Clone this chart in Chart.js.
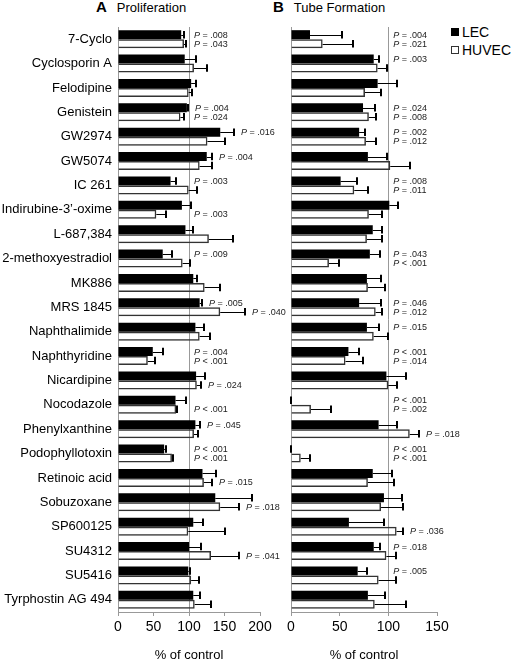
<!DOCTYPE html>
<html>
<head>
<meta charset="utf-8">
<script src="https://cdn.jsdelivr.net/npm/chart.js@4/dist/chart.umd.min.js"></script>
<style>
  html, body { margin: 0; padding: 0; background: #fff; }
  body { width: 512px; height: 663px; position: relative; overflow: hidden;
         font-family: "Liberation Sans", Arial, sans-serif; color: #000; }
  canvas { position: absolute; top: 0; }
  #chartA { left: 0; }
  #chartB { left: 262px; }
  .title { position: absolute; top: -1px; line-height: 15px; font-size: 13px; white-space: nowrap; }
  .title b { font-size: 15px; margin-right: 10px; }
  .legend { position: absolute; left: 451px; font-size: 14px; line-height: 16px; white-space: nowrap; }
  .legend span.box { display: inline-block; width: 8px; height: 8px; margin-right: 3px; vertical-align: 1px; box-sizing: border-box; }
</style>
</head>
<body>
<div class="title" style="left:96px"><b>A</b>Proliferation</div>
<div class="title" style="left:273px"><b>B</b>Tube Formation</div>
<div class="legend" style="top:24px"><span class="box" style="background:#000"></span>LEC</div>
<div class="legend" style="top:42px"><span class="box" style="border:1px solid #333;background:#fff"></span>HUVEC</div>
<canvas id="chartA" width="290" height="663"></canvas>
<canvas id="chartB" width="210" height="663"></canvas>
<script>
const drugs = [
  "7-Cyclo", "Cyclosporin A", "Felodipine", "Genistein", "GW2974", "GW5074",
  "IC 261", "Indirubine-3\u2019-oxime", "L-687,384", "2-methoxyestradiol", "MK886",
  "MRS 1845", "Naphthalimide", "Naphthyridine", "Nicardipine", "Nocodazole",
  "Phenylxanthine", "Podophyllotoxin", "Retinoic acid", "Sobuzoxane", "SP600125",
  "SU4312", "SU5416", "Tyrphostin AG 494"
];

// Proliferation (% of control)
const lecProlif = [89, 94, 103, 97, 144, 125, 74, 90, 95, 63, 106, 115, 109, 49, 110, 81, 109, 65, 119, 137, 106, 100, 99, 106];
const lecProlifErr = [4, 16, 7, 1.5, 19, 7, 7, 13, 11, 13, 5, 3, 12, 14, 12, 15, 6, 2, 19, 52, 14, 17, 2, 9];
const huvecProlif = [93, 107, 99.5, 88, 126, 115, 99.5, 54, 128, 91, 122, 144, 115, 42, 111, 82, 107, 76, 121, 144, 99, 131, 103, 108];
const huvecProlifErr = [3, 19, 4.5, 5, 24, 18, 11.5, 14, 34, 11, 22, 35, 14, 10, 6, 1, 5, 2, 12, 27, 51, 40, 11, 23];
const lecProlifP = [
  "= .008", null, null, "= .004", "= .016", "= .004", "= .003", null, null, "= .009", null, "= .005",
  null, "= .004", null, null, "= .045", "< .001", null, null, null, null, null, null
];
const huvecProlifP = [
  "= .043", null, null, "= .024", null, null, null, "= .003", null, null, null, "= .040",
  null, "< .001", "= .024", "< .001", null, "< .001", "= .015", "= .018", null, "= .041", null, null
];

// Tube formation (% of control)
const lecTube = [19.5, 85, 89, 74, 70, 79, 51, 101, 84, 81, 78, 70, 78, 59, 98, 0.5, 90, 0.5, 84, 95.5, 59.5, 85, 68.5, 79];
const lecTubeErr = [32.5, 5, 20, 12, 6, 20, 17, 9, 10, 10, 14, 22, 12, 11, 20, 0, 19, 0, 20, 18.5, 36.5, 6, 9.5, 18];
const huvecTube = [32.5, 89, 76, 80, 77, 102, 65, 80, 78, 39, 79, 87, 85, 56, 100, 20.5, 122, 10, 79, 92.5, 108.5, 98, 90, 86];
const huvecTubeErr = [31.5, 10, 16, 7, 10, 20, 14, 14, 16, 10, 18, 7, 15, 18, 9, 20.5, 10, 9.5, 27, 22.5, 6.5, 9.5, 17.5, 32];
const lecTubeP = [
  "= .004", "= .003", null, "= .024", "= .002", null, "= .008", null, null, "= .043", null, "= .046",
  "= .015", "< .001", null, "< .001", null, "< .001", null, null, null, "= .018", "= .005", null
];
const huvecTubeP = [
  "= .021", null, null, "= .008", "= .012", null, "= .011", null, null, "< .001", null, "= .012",
  null, "= .014", null, "= .002", "= .018", "< .001", null, null, "= .036", null, null, null
];

Chart.defaults.font.family = "'Liberation Sans', Arial, sans-serif";
Chart.defaults.color = "#000";

const AXIS_GRAY = "#999";

// error bars (positive side only), 100% reference line and P value labels
const errorBarsPlugin = {
  id: "errorBars",
  beforeDatasetsDraw(chart) {
    const { ctx, chartArea, scales: { x } } = chart;
    const x100 = Math.round(x.getPixelForValue(100)) + 0.5;
    ctx.save();
    ctx.strokeStyle = AXIS_GRAY;
    ctx.lineWidth = 1;
    ctx.beginPath();
    ctx.moveTo(x100, chartArea.top);
    ctx.lineTo(x100, chartArea.bottom);
    ctx.stroke();
    ctx.restore();
  },
  afterDatasetsDraw(chart) {
    const { ctx, scales: { x } } = chart;
    const minLabelX = x.getPixelForValue(100) + 5;
    ctx.save();
    chart.data.datasets.forEach((dataset, datasetIndex) => {
      const meta = chart.getDatasetMeta(datasetIndex);
      meta.data.forEach((bar, index) => {
        const mean = dataset.data[index];
        const end = mean + dataset.errors[index];
        const xStart = x.getPixelForValue(mean);
        const xEnd = Math.round(x.getPixelForValue(end));
        const y = Math.round(bar.y) + 0.5;
        const cap = bar.height * 0.42;

        ctx.strokeStyle = "#000";
        ctx.lineWidth = 1;
        ctx.beginPath();
        ctx.moveTo(xStart, y);
        ctx.lineTo(xEnd, y);
        ctx.stroke();
        ctx.lineWidth = 2;
        ctx.beginPath();
        ctx.moveTo(xEnd, bar.y - cap);
        ctx.lineTo(xEnd, bar.y + cap);
        ctx.stroke();

        const pText = dataset.pValues[index];
        if (pText) {
          const labelX = Math.max(minLabelX, xEnd + 7);
          ctx.fillStyle = "#222";
          ctx.textBaseline = "middle";
          ctx.textAlign = "left";
          ctx.font = "italic 9px 'Liberation Sans', Arial, sans-serif";
          ctx.fillText("P", labelX, bar.y + 0.5);
          const pWidth = ctx.measureText("P ").width;
          ctx.font = "9px 'Liberation Sans', Arial, sans-serif";
          ctx.fillText(pText, labelX + pWidth, bar.y + 0.5);
        }
      });
    });
    ctx.restore();
  },
};

function buildChart(canvasId, options) {
  return new Chart(document.getElementById(canvasId), {
    type: "bar",
    data: {
      labels: drugs,
      datasets: [
        {
          label: "LEC",
          data: options.lec,
          errors: options.lecErr,
          pValues: options.lecP,
          backgroundColor: "#000",
          borderWidth: 0,
          barPercentage: 1,
          categoryPercentage: 0.74,
        },
        {
          label: "HUVEC",
          data: options.huvec,
          errors: options.huvecErr,
          pValues: options.huvecP,
          backgroundColor: "rgba(255,255,255,0)",
          borderColor: "#333",
          borderWidth: 1.5,
          barPercentage: 1,
          categoryPercentage: 0.74,
        },
      ],
    },
    options: {
      indexAxis: "y",
      responsive: false,
      animation: false,
      layout: {
        padding: options.padding,
      },
      plugins: {
        legend: { display: false },
        tooltip: { enabled: false },
      },
      scales: {
        x: {
          min: 0,
          max: options.max,
          ticks: {
            stepSize: 50,
            padding: 3,
            font: { size: 14 },
          },
          grid: {
            drawOnChartArea: false,
            drawTicks: true,
            tickLength: 4,
            color: AXIS_GRAY,
          },
          border: { display: true, color: AXIS_GRAY },
          title: {
            display: true,
            text: "% of control",
            font: { size: 13 },
            padding: { top: 0, bottom: 0 },
          },
          afterFit(scale) {
            scale.height = 51;
          },
        },
        y: {
          ticks: {
            display: options.showLabels,
            padding: 6,
            font: { size: 13 },
          },
          grid: { display: false, drawTicks: false, tickLength: 0 },
          border: { display: true, color: AXIS_GRAY },
          afterFit(scale) {
            scale.width = options.axisWidth;
          },
        },
      },
    },
    plugins: [errorBarsPlugin],
  });
}

buildChart("chartA", {
  lec: lecProlif, lecErr: lecProlifErr, lecP: lecProlifP,
  huvec: huvecProlif, huvecErr: huvecProlifErr, huvecP: huvecProlifP,
  max: 200,
  showLabels: true,
  axisWidth: 118,
  padding: { top: 27, right: 30, bottom: 0, left: 0 },
});

buildChart("chartB", {
  lec: lecTube, lecErr: lecTubeErr, lecP: lecTubeP,
  huvec: huvecTube, huvecErr: huvecTubeErr, huvecP: huvecTubeP,
  max: 150,
  showLabels: false,
  axisWidth: 0,
  padding: { top: 27, right: 35, bottom: 0, left: 29 },
});
</script>
</body>
</html>
